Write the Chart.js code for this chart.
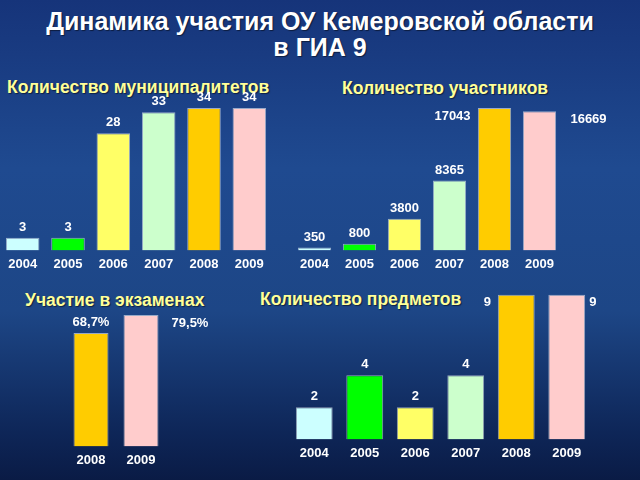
<!DOCTYPE html>
<html>
<head>
<meta charset="utf-8">
<script src="https://cdn.jsdelivr.net/npm/chart.js@4"></script>
<style>
  body { margin: 0; background: #0b1f4a; }
  #slide {
    position: relative; width: 640px; height: 480px; overflow: hidden;
    background: linear-gradient(180deg, #16347a 0%, #1f4a90 35%, #1d4686 65%, #0e2658 90%, #0a1b45 100%);
    font-family: "Liberation Sans", Arial, sans-serif;
  }
  .title {
    position: absolute; left: 0; width: 640px; text-align: center;
    color: #fff; font-weight: bold; font-size: 25px; line-height: 26px;
    text-shadow: 1px 1px 1px rgba(0,0,0,0.5);
  }
  .sub {
    position: absolute; color: #ffff99; font-weight: bold; font-size: 17.5px;
    white-space: nowrap; text-shadow: 1px 1px 1px rgba(0,0,0,0.5);
  }
  canvas { position: absolute; }
</style>
</head>
<body>
<div id="slide">
  <div class="title" style="top:8px">Динамика участия ОУ Кемеровской области<br>в ГИА 9</div>

  <div class="sub" style="left:7px; top:77px">Количество муниципалитетов</div>
  <div class="sub" style="left:342px; top:78px">Количество участников</div>
  <div class="sub" style="left:25px; top:290px">Участие в экзаменах</div>
  <div class="sub" style="left:260px; top:289px">Количество предметов</div>

  <canvas id="munChart" width="272" height="190" style="left:0px; top:88px"></canvas>
  <canvas id="partChart" width="320" height="190" style="left:292px; top:88px"></canvas>
  <canvas id="examChart" width="170" height="176" style="left:56px; top:298px"></canvas>
  <canvas id="subjChart" width="330" height="179" style="left:280px; top:288px"></canvas>
</div>
<script>
let years = ['2004', '2005', '2006', '2007', '2008', '2009'];
let municipalities = [3, 3, 28, 33, 34, 34];
let participants = [350, 800, 3800, 8365, 17043, 16669];
let examYears = ['2008', '2009'];
let examShare = [68.7, 79.5];
let examLabels = ['68,7%', '79,5%'];
let subjects = [2, 4, 2, 4, 9, 9];

let yearColors = ['#ccffff', '#00ff00', '#ffff66', '#ccffcc', '#ffcc00', '#ffcccc'];

// draws the value over each bar, some are pushed to the side like on the slide
const valueLabels = {
    id: 'valueLabels',
    afterDatasetsDraw(chart, args, opts) {
        const ctx = chart.ctx;
        const meta = chart.getDatasetMeta(0);
        const texts = opts.texts || chart.data.datasets[0].data.map(String);
        const side = opts.side || {};
        ctx.save();
        ctx.font = 'bold 13px "Liberation Sans", Arial, sans-serif';
        ctx.fillStyle = '#ffffff';
        ctx.textAlign = 'center';
        meta.data.forEach((bar, i) => {
            if (side[i] !== undefined) {
                ctx.textBaseline = 'middle';
                ctx.fillText(texts[i], bar.x + side[i], bar.y + 8);
            } else {
                ctx.textBaseline = 'bottom';
                ctx.fillText(texts[i], bar.x, bar.y - 4);
            }
        });
        ctx.restore();
    }
};

function makeChart(id, labels, values, colors, yMax, barPct, padding, labelOpts) {
    return new Chart(document.getElementById(id), {
        type: 'bar',
        data: {
            labels: labels,
            datasets: [{
                data: values,
                backgroundColor: colors,
                borderColor: 'rgba(255,255,255,0.55)',
                borderWidth: 1,
                barPercentage: barPct,
                categoryPercentage: 1
            }]
        },
        options: {
            responsive: false,
            animation: false,
            layout: { padding: padding },
            plugins: {
                legend: { display: false },
                tooltip: { enabled: false },
                valueLabels: labelOpts
            },
            scales: {
                x: {
                    grid: { display: false, drawTicks: false },
                    border: { display: false },
                    ticks: {
                        color: '#ffffff',
                        padding: 6,
                        font: { family: '"Liberation Sans", Arial, sans-serif', size: 13, weight: 'bold' }
                    }
                },
                y: { display: false, min: 0, max: yMax }
            }
        },
        plugins: [valueLabels]
    });
}

makeChart('munChart', years, municipalities, yearColors, 38.3, 0.74,
    { top: 2, left: 0, right: 0, bottom: 0 }, {});
makeChart('partChart', years, participants, yearColors, 19200, 0.74,
    { top: 2, left: 0, right: 50, bottom: 0 }, { side: { 4: -42, 5: 49 } });
makeChart('examChart', examYears, examShare, ['#ffcc00', '#ffcccc'], 88.6, 0.7,
    { top: 2, left: 10, right: 60, bottom: 0 }, { texts: examLabels, side: { 1: 49 } });
makeChart('subjChart', years, subjects, yearColors, 9.3, 0.73,
    { top: 2, left: 9, right: 18, bottom: 0 }, { side: { 4: -29, 5: 26 } });
</script>
</body>
</html>
